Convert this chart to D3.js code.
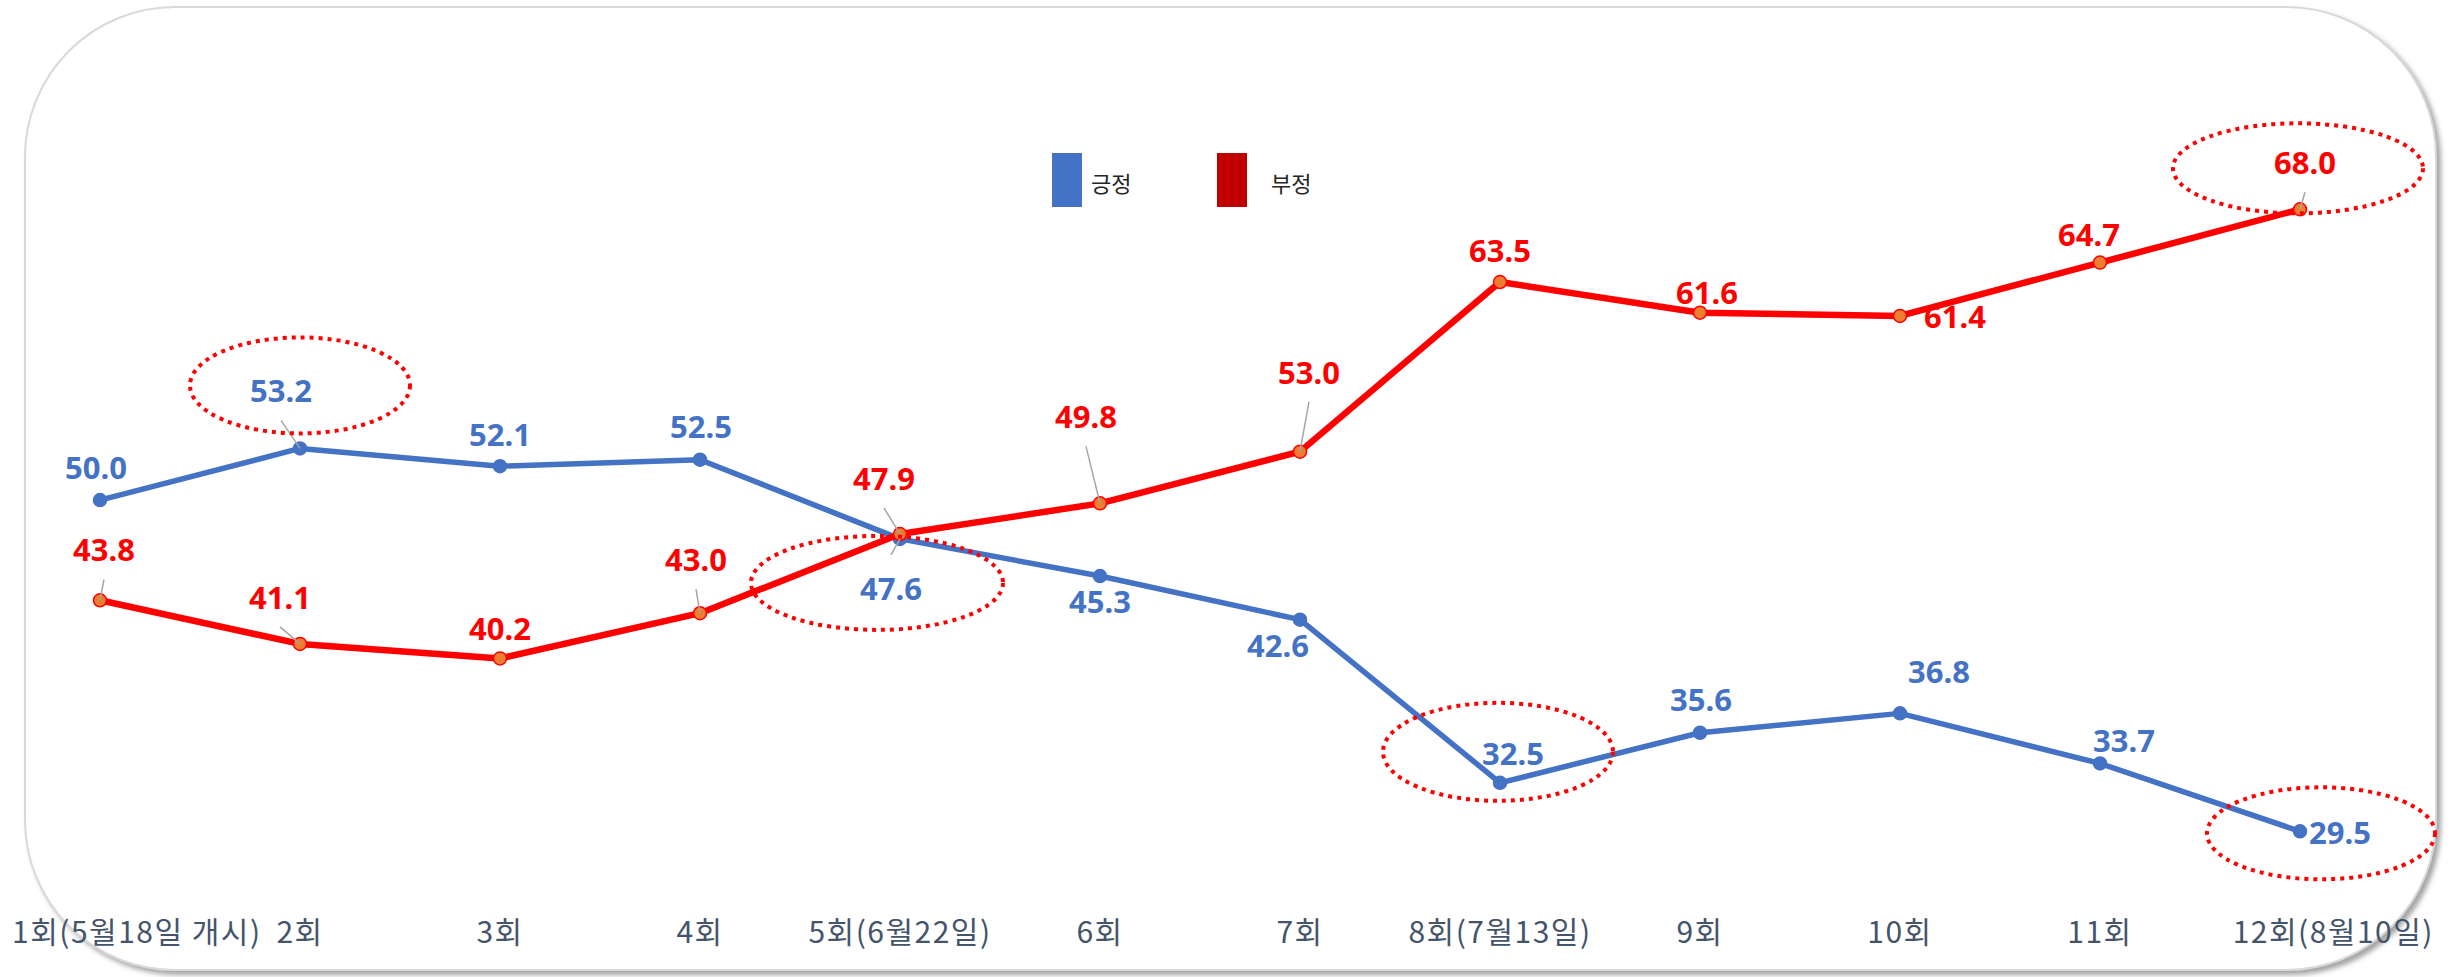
<!DOCTYPE html>
<html>
<head>
<meta charset="utf-8">
<script src="https://cdn.jsdelivr.net/npm/d3@7"></script>
<style>
  body { margin: 0; background: #fff; }
  svg { display: block; }
</style>
</head>
<body>
<div id="chart"></div>
<script>
// chart values
const categories = ["1회(5월18일 개시)", "2회", "3회", "4회", "5회(6월22일)", "6회", "7회", "8회(7월13일)", "9회", "10회", "11회", "12회(8월10일)"]
const positive = [50.0, 53.2, 52.1, 52.5, 47.6, 45.3, 42.6, 32.5, 35.6, 36.8, 33.7, 29.5]
const negative = [43.8, 41.1, 40.2, 43.0, 47.9, 49.8, 53.0, 63.5, 61.6, 61.4, 64.7, 68.0]
const seriesNames = ["긍정", "부정"]

// label placement (dx, dy from the point, leader line flag)
const positiveLabelPos = [[-4,-21],[-19,-46,1],[0,-20],[1,-22],[-9,61,1],[0,37],[-22,37],[13,-18],[1,-22],[39,-30],[24,-11],[40,13]]
const negativeLabelPos = [[4,-39,1],[-20,-35,1],[0,-18],[-4,-42,1],[-16,-44,1],[-14,-75,1],[9,-68,1],[0,-20],[7,-9],[55,12],[-11,-17],[5,-35,1]]
// dotted highlight ellipses: series, index, dx, dy, rx, ry
const highlights = [[0,1,0,-63,110,48],[0,4,-23,44,126,47],[0,7,-2,-31,115,49],[0,11,21,2,114,46],[1,11,-2,-41,125,45]]

const W = 2458, H = 977

var svg = d3.select("#chart")
  .append("svg")
    .attr("width", W)
    .attr("height", H)

// frame with shadow
const defs = svg.append("defs")
defs.append("filter")
    .attr("id", "shadow")
    .attr("x", "-5%").attr("y", "-5%").attr("width", "110%").attr("height", "110%")
  .append("feDropShadow")
    .attr("dx", 4).attr("dy", 4).attr("stdDeviation", 2.5)
    .attr("flood-color", "#7f7f7f").attr("flood-opacity", 0.7)

svg.append("rect")
    .attr("x", 25).attr("y", 7)
    .attr("width", 2411).attr("height", 963)
    .attr("rx", 150).attr("ry", 150)
    .attr("fill", "#fff")
    .attr("stroke", "#d9d9d9")
    .attr("stroke-width", 2)
    .attr("filter", "url(#shadow)")

// scales
const x = d3.scalePoint()
    .domain(categories)
    .range([100, 2300])

const y = d3.scaleLinear()
    .domain([25, 70])
    .range([904, 177])

// x axis labels, the two end ones pushed inside the frame
const last = categories.length - 1
svg.append("g")
  .selectAll("text")
  .data(categories)
  .enter().append("text")
    .attr("x", (d, i) => i == 0 ? 12 : i == last ? 2434 : x(d))
    .attr("y", 943)
    .attr("text-anchor", (d, i) => i == 0 ? "start" : i == last ? "end" : "middle")
    .attr("font-family", "'Noto Sans CJK KR', 'Noto Sans', sans-serif")
    .attr("font-size", 30)
    .attr("letter-spacing", 1.5)
    .attr("fill", "#44546a")
    .text(d => d)

// legend
const legendColors = ["#4472c4", "#c00000"]
const legendX = [1052, 1217]
const legendTextDx = [39, 54]
seriesNames.forEach((name, i) => {
    svg.append("rect")
        .attr("x", legendX[i]).attr("y", 153)
        .attr("width", 30).attr("height", 54)
        .attr("fill", legendColors[i])
    svg.append("text")
        .attr("x", legendX[i] + legendTextDx[i])
        .attr("y", 192)
        .attr("font-family", "'Noto Sans CJK KR', sans-serif")
        .attr("font-size", 22)
        .attr("fill", "#262626")
        .text(name)
})

const line = d3.line()
    .x((d, i) => x(categories[i]))
    .y(d => y(d))

const series = [
    { values: positive, color: "#4472c4", width: 5.5, fill: "#4472c4", stroke: "#4472c4", labels: positiveLabelPos, text: "#4472c4" },
    { values: negative, color: "#ff0000", width: 6.5, fill: "#ed7d31", stroke: "#ff0000", labels: negativeLabelPos, text: "#ff0000" }
]

series.forEach(s => {
    svg.append("path")
        .datum(s.values)
        .attr("fill", "none")
        .attr("stroke", s.color)
        .attr("stroke-width", s.width)
        .attr("stroke-linejoin", "round")
        .attr("d", line)

    svg.append("g")
      .selectAll("circle")
      .data(s.values)
      .enter().append("circle")
        .attr("cx", (d, i) => x(categories[i]))
        .attr("cy", d => y(d))
        .attr("r", 6.5)
        .attr("fill", s.fill)
        .attr("stroke", s.stroke)
        .attr("stroke-width", 1.5)
})

// data labels and leader lines
series.forEach(s => {
    s.values.forEach((v, i) => {
        const px = x(categories[i]), py = y(v)
        const p = s.labels[i]
        const lx = px + p[0], ly = py + p[1]
        if (p[2]) {
            const sy = p[1] < 0 ? ly + 18 : ly - 45
            svg.append("line")
                .attr("x1", lx).attr("y1", sy)
                .attr("x2", px).attr("y2", py)
                .attr("stroke", "#a5a5a5")
                .attr("stroke-width", 1.5)
        }
        svg.append("text")
            .attr("x", lx)
            .attr("y", ly)
            .attr("text-anchor", "middle")
            .attr("font-family", "'Noto Sans', 'Open Sans', sans-serif")
            .attr("font-weight", "bold")
            .attr("font-size", 31)
            .attr("fill", s.text)
            .text(v.toFixed(1))
    })
})

// dotted highlight rings
svg.append("g")
  .selectAll("ellipse")
  .data(highlights)
  .enter().append("ellipse")
    .attr("cx", h => x(categories[h[1]]) + h[2])
    .attr("cy", h => y(series[h[0]].values[h[1]]) + h[3])
    .attr("rx", h => h[4])
    .attr("ry", h => h[5])
    .attr("fill", "none")
    .attr("stroke", "#ff0000")
    .attr("stroke-width", 4)
    .attr("stroke-dasharray", "4 5")
</script>
</body>
</html>
